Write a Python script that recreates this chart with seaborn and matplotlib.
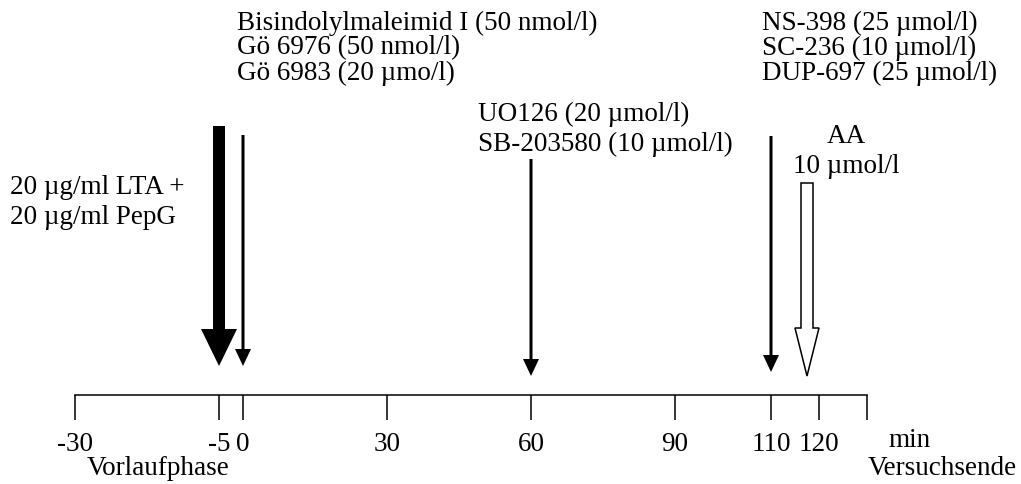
import matplotlib
matplotlib.use("Agg")
import matplotlib.pyplot as plt
import seaborn as sns

# ======================================
# Data
# ======================================

tick_minutes = [-30, -5, 0, 30, 60, 90, 110, 120, 130]
tick_labels = ["-30", "-5", "0", "30", "60", "90", "110", "120", ""]

stimulus_time = -5
stimulus_label = ["20 µg/ml LTA +", "20 µg/ml PepG"]

inhibitor_times = [0, 60, 110]
inhibitor_labels = [
    ["Bisindolylmaleimid I (50 nmol/l)", "Gö 6976 (50 nmol/l)", "Gö 6983 (20 µmo/l)"],
    ["UO126 (20 µmol/l)", "SB-203580 (10 µmol/l)"],
    ["NS-398 (25 µmol/l)", "SC-236 (10 µmol/l)", "DUP-697 (25 µmol/l)"],
]

aa_time = 117.5
aa_label = ["AA", "10 µmol/l"]

phase_labels = ["Vorlaufphase", "Versuchsende"]
unit_label = "min"

# ======================================
# Layout
# ======================================

PX_PER_MIN = 4.8
ZERO_PX = 243
W, H = 1021, 485
AXIS_Y = 396
FONT = 19.5


def to_axis(m):
    # pre-phase before -5 min is drawn on a compressed scale
    return m if m >= -5 else -5 + (m + 5) * 1.2


def px(n):
    return n / PX_PER_MIN


sns.set_theme(style="white")
plt.rcParams["font.family"] = ["Liberation Serif", "DejaVu Serif"]
plt.rcParams["text.color"] = "black"
plt.rcParams["xtick.color"] = "black"

fig = plt.figure(figsize=(W / 100, H / 100), dpi=100)
ax = fig.add_axes([0, 0, 1, 1])
ax.set_xlim(-ZERO_PX / PX_PER_MIN, (W - ZERO_PX) / PX_PER_MIN)
ax.set_ylim(H, 0)

# time axis
sns.despine(ax=ax, left=True, top=True, right=True)
ax.spines["bottom"].set_position(("data", AXIS_Y))
ax.spines["bottom"].set_bounds(to_axis(tick_minutes[0]), to_axis(tick_minutes[-1]))
ax.spines["bottom"].set_linewidth(1.1)
ax.spines["bottom"].set_color("black")
ax.set_xticks([to_axis(m) for m in tick_minutes], tick_labels)
ax.tick_params(
    axis="x", direction="out", length=18, width=1.1,
    color="black", labelcolor="black", labelsize=FONT, pad=8, bottom=True
)
ax.set_yticks([])

ax.text(px(888 - ZERO_PX), 441, unit_label, fontsize=FONT, va="center", ha="left")
ax.text(px(158 - ZERO_PX), 469, phase_labels[0], fontsize=FONT, va="center", ha="center")
ax.text(px(1017 - ZERO_PX), 469, phase_labels[1], fontsize=FONT, va="center", ha="right")

# stimulus arrow (thick)
x_stim = to_axis(stimulus_time)
ax.arrow(
    x_stim, 127, 0, 367 - 127,
    width=px(12), head_width=px(36), head_length=37,
    length_includes_head=True, fc="black", ec="black", lw=0
)
for i, line in enumerate(stimulus_label):
    ax.text(px(10 - ZERO_PX), 188 + 30 * i, line, fontsize=FONT, va="center", ha="left")

# inhibitor arrows (thin)
arrow_tops = [136, 160, 137]
arrow_tips = [367, 377, 373]
text_offsets = [px(-6), px(-53), px(-9)]
text_tops = [23, 114, 23]
line_steps = [25, 30, 25]

for t, lines, top, tip, off, ty, step in zip(
    inhibitor_times, inhibitor_labels, arrow_tops, arrow_tips,
    text_offsets, text_tops, line_steps
):
    ax.arrow(
        to_axis(t), top, 0, tip - top,
        width=px(3), head_width=px(16), head_length=17,
        length_includes_head=True, fc="black", ec="black", lw=0
    )
    for i, line in enumerate(lines):
        ax.text(to_axis(t) + off, ty + step * i, line, fontsize=FONT, va="center", ha="left")

# arachidonic acid (hollow arrow)
ax.arrow(
    to_axis(aa_time), 184, 0, 377 - 184,
    width=px(12), head_width=px(24), head_length=48,
    length_includes_head=True, fc="white", ec="black", lw=1.1
)
for i, line in enumerate(aa_label):
    ax.text(to_axis(aa_time) + px(39), 137 + 30 * i, line, fontsize=FONT, va="center", ha="center")

plt.savefig("out.png", dpi=100)
plt.close()
